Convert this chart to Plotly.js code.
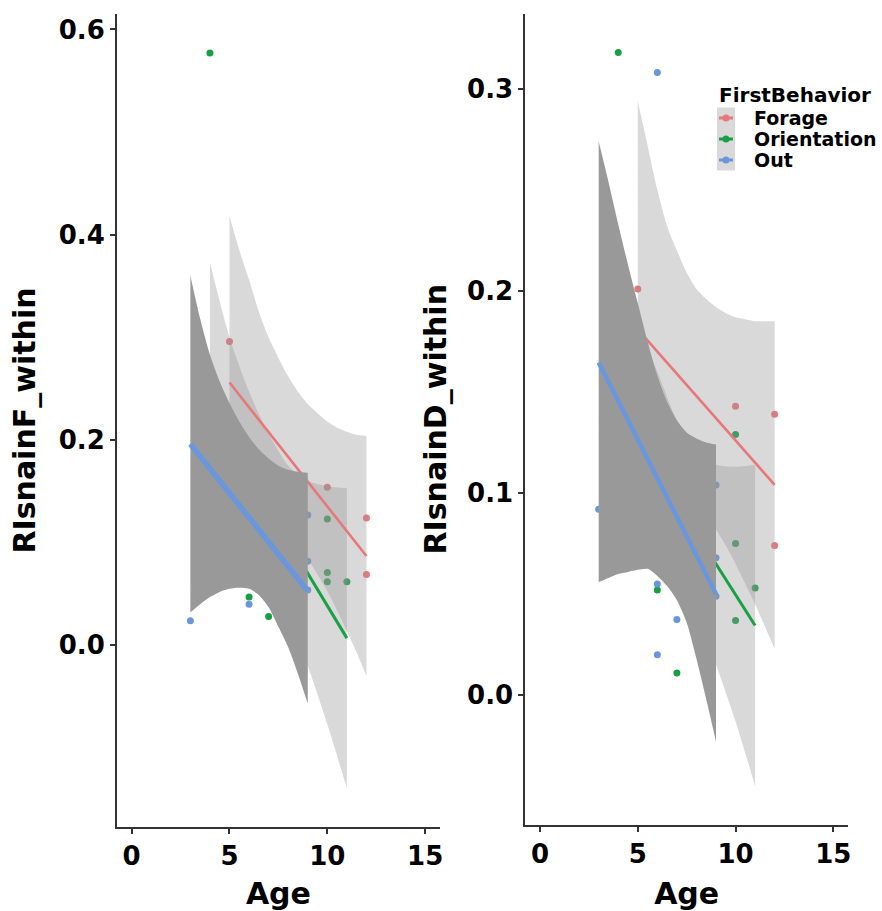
<!DOCTYPE html>
<html>
<head>
<meta charset="utf-8">
<script src="https://cdn.plot.ly/plotly-3.0.1.min.js"></script>
<style>html,body{margin:0;padding:0;background:#fff}#chart{width:882px;height:911px}</style>
</head>
<body>
<div id="chart"></div>
<script>
// ---------- categories / ticks ----------
const groups = ['Forage', 'Orientation', 'Out'];
const legendTitle = 'FirstBehavior';
const ageTicks = [0, 5, 10, 15];
const ticksF = [0, 0.2, 0.4, 0.6];
const ticksD = [0, 0.1, 0.2, 0.3];

// ---------- Left panel: RIsnainF_within ----------
const F_forage_age = [5, 10, 12, 12];
const F_forage_val = [0.296, 0.154, 0.124, 0.069];
const F_orient_age = [4, 6, 7, 10, 10, 10, 11];
const F_orient_val = [0.577, 0.047, 0.028, 0.123, 0.071, 0.062, 0.062];
const F_out_age = [3, 6, 9, 9, 9];
const F_out_val = [0.024, 0.040, 0.127, 0.082, 0.054];

// fitted lines (end points)
const F_forage_fitAge = [5, 12];
const F_forage_fitVal = [0.256, 0.087];
const F_orient_fitAge = [4, 11];
const F_orient_fitVal = [0.228, 0.007];
const F_out_fitAge = [3, 9];
const F_out_fitVal = [0.196, 0.053];

// confidence bands
const F_forage_bandAge = [5, 5.5, 6, 6.5, 7, 7.5, 8, 8.5, 9, 9.5, 10, 10.5, 11, 11.5, 12];
const F_forage_bandHi = [0.418, 0.385, 0.356, 0.325, 0.300, 0.280, 0.262, 0.247, 0.235, 0.226, 0.218, 0.212, 0.208, 0.205, 0.204];
const F_forage_bandLo = [0.094, 0.103, 0.108, 0.115, 0.115, 0.111, 0.105, 0.096, 0.084, 0.069, 0.053, 0.034, 0.014, -0.007, -0.030];
const F_orient_bandAge = [4, 5, 6, 7, 8, 9, 10, 11];
const F_orient_bandHi = [0.373, 0.300, 0.247, 0.206, 0.175, 0.160, 0.155, 0.153];
const F_orient_bandLo = [0.082, 0.080, 0.075, 0.060, 0.028, -0.020, -0.077, -0.139];
const F_out_bandAge = [3, 3.5, 4, 4.5, 5, 5.5, 6, 6.5, 7, 7.5, 8, 8.5, 9];
const F_out_bandHi = [0.360, 0.318, 0.283, 0.257, 0.236, 0.218, 0.203, 0.191, 0.182, 0.175, 0.171, 0.169, 0.168];
const F_out_bandLo = [0.032, 0.040, 0.047, 0.052, 0.055, 0.056, 0.055, 0.049, 0.037, 0.018, -0.002, -0.028, -0.057];

// ---------- Right panel: RIsnainD_within ----------
const D_forage_age = [5, 10, 12, 12];
const D_forage_val = [0.201, 0.143, 0.139, 0.074];
const D_orient_age = [4, 6, 7, 10, 10, 10, 11];
const D_orient_val = [0.318, 0.052, 0.011, 0.129, 0.075, 0.037, 0.053];
const D_out_age = [3, 6, 6, 6, 7, 9, 9, 9];
const D_out_val = [0.092, 0.308, 0.055, 0.020, 0.0375, 0.104, 0.068, 0.049];

const D_forage_fitAge = [5, 12];
const D_forage_fitVal = [0.181, 0.104];
const D_orient_fitAge = [4, 11];
const D_orient_fitVal = [0.141, 0.0345];
const D_out_fitAge = [3, 9];
const D_out_fitVal = [0.1646, 0.0501];

const D_forage_bandAge = [5, 5.5, 6, 6.5, 7, 7.5, 8, 8.5, 9, 9.5, 10, 10.5, 11, 11.5, 12];
const D_forage_bandHi = [0.294, 0.272, 0.250, 0.232, 0.220, 0.209, 0.201, 0.196, 0.192, 0.189, 0.187, 0.186, 0.185, 0.185, 0.185];
const D_forage_bandLo = [0.068, 0.079, 0.090, 0.097, 0.098, 0.098, 0.095, 0.089, 0.082, 0.074, 0.065, 0.055, 0.045, 0.034, 0.023];
const D_orient_bandAge = [4, 5, 6, 7, 8, 9, 10, 11];
const D_orient_bandHi = [0.213, 0.185, 0.160, 0.136, 0.121, 0.114, 0.113, 0.114];
const D_orient_bandLo = [0.068, 0.066, 0.061, 0.054, 0.039, 0.015, -0.013, -0.045];
const D_out_bandAge = [3, 3.5, 4, 4.5, 5, 5.5, 6, 6.5, 7, 7.5, 8, 8.5, 9];
const D_out_bandHi = [0.274, 0.254, 0.233, 0.213, 0.194, 0.175, 0.158, 0.145, 0.136, 0.130, 0.127, 0.125, 0.124];
const D_out_bandLo = [0.056, 0.058, 0.060, 0.061, 0.062, 0.0625, 0.059, 0.054, 0.047, 0.036, 0.018, -0.002, -0.023];

// ---------- styles ----------
const COL = { Forage: '#E8777A', Orientation: '#18A045', Out: '#6A96DE' };
const LIGHT = 'rgba(150,150,150,0.36)';
const DARK = 'rgb(153,153,153)';
const FONT = 'DejaVu Sans, Arial, sans-serif';

function pts(x, y, g, xa, ya) {
  return { x: x, y: y, mode: 'markers', type: 'scatter', xaxis: xa, yaxis: ya,
    marker: { color: COL[g], size: 7 }, showlegend: false, hoverinfo: 'x+y', name: g };
}
function band(x, lo, hi, fill, xa, ya) {
  const base = { x: x, mode: 'lines', type: 'scatter', xaxis: xa, yaxis: ya,
    showlegend: false, hoverinfo: 'skip', line: { width: 0, shape: 'spline', smoothing: 0.7, color: 'rgba(0,0,0,0)' } };
  return [Object.assign({}, base, { y: lo }),
          Object.assign({}, base, { y: hi, fill: 'tonexty', fillcolor: fill })];
}
function fit(x, y, g, w, xa, ya) {
  return { x: x, y: y, mode: 'lines', type: 'scatter', xaxis: xa, yaxis: ya,
    line: { color: COL[g], width: w }, showlegend: false, hoverinfo: 'skip', name: g };
}

function panel(xa, ya, P, outW) {
  let t = [];
  t.push(pts(P.fa, P.fv, 'Forage', xa, ya));
  t.push(pts(P.oa, P.ov, 'Orientation', xa, ya));
  t.push(pts(P.ua, P.uv, 'Out', xa, ya));
  t = t.concat(band(P.fbA, P.fbL, P.fbH, LIGHT, xa, ya));
  t = t.concat(band(P.obA, P.obL, P.obH, LIGHT, xa, ya));
  t.push(fit(P.ffA, P.ffV, 'Forage', 2.6, xa, ya));
  t.push(fit(P.ofA, P.ofV, 'Orientation', 3, xa, ya));
  t = t.concat(band(P.ubA, P.ubL, P.ubH, DARK, xa, ya));
  t.push(fit(P.ufA, P.ufV, 'Out', outW, xa, ya));
  return t;
}

const left = panel('x', 'y', {
  fa: F_forage_age, fv: F_forage_val, oa: F_orient_age, ov: F_orient_val, ua: F_out_age, uv: F_out_val,
  fbA: F_forage_bandAge, fbL: F_forage_bandLo, fbH: F_forage_bandHi,
  obA: F_orient_bandAge, obL: F_orient_bandLo, obH: F_orient_bandHi,
  ubA: F_out_bandAge, ubL: F_out_bandLo, ubH: F_out_bandHi,
  ffA: F_forage_fitAge, ffV: F_forage_fitVal, ofA: F_orient_fitAge, ofV: F_orient_fitVal,
  ufA: F_out_fitAge, ufV: F_out_fitVal
}, 5.5);
const right = panel('x2', 'y2', {
  fa: D_forage_age, fv: D_forage_val, oa: D_orient_age, ov: D_orient_val, ua: D_out_age, uv: D_out_val,
  fbA: D_forage_bandAge, fbL: D_forage_bandLo, fbH: D_forage_bandHi,
  obA: D_orient_bandAge, obL: D_orient_bandLo, obH: D_orient_bandHi,
  ubA: D_out_bandAge, ubL: D_out_bandLo, ubH: D_out_bandHi,
  ffA: D_forage_fitAge, ffV: D_forage_fitVal, ofA: D_orient_fitAge, ofV: D_orient_fitVal,
  ufA: D_out_fitAge, ufV: D_out_fitVal
}, 4.5);

// ---------- layout helpers (pixel -> paper) ----------
const W = 882, H = 911, ML = 117, MR = 34, MT = 14, MB = 84;
const PW = W - ML - MR, PH = H - MT - MB;
const px = v => (v - ML) / PW;
const py = v => (H - MB - v) / PH;

// legend, drawn as ggplot-style key column
const legX = 717, legKeyW = 18, legTextX = 752, legTitleY = 95, legRow0 = 118, legRowH = 21;
const annotations = [{
  xref: 'paper', yref: 'paper', x: px(legX), y: py(legTitleY), xanchor: 'left', yanchor: 'middle',
  text: legendTitle, showarrow: false, font: { family: FONT, size: 20, weight: 'bold', color: '#000' }
}];
const shapes = [{
  type: 'rect', xref: 'paper', yref: 'paper', layer: 'above',
  x0: px(legX), x1: px(legX + legKeyW), y0: py(legRow0 - legRowH / 2), y1: py(legRow0 + legRowH * 2.5),
  fillcolor: '#d9d9d9', line: { width: 0 }
}];
groups.forEach((g, i) => {
  const yc = legRow0 + i * legRowH;
  annotations.push({
    xref: 'paper', yref: 'paper', x: px(legTextX), y: py(yc), xanchor: 'left', yanchor: 'middle',
    text: g, showarrow: false, font: { family: FONT, size: 19, weight: 'bold', color: '#000' }
  });
  shapes.push({
    type: 'line', xref: 'paper', yref: 'paper', layer: 'above',
    x0: px(legX + 2), x1: px(legX + legKeyW - 2), y0: py(yc), y1: py(yc),
    line: { color: COL[g], width: 3 }
  });
  shapes.push({
    type: 'circle', xref: 'paper', yref: 'paper', layer: 'above',
    xsizemode: 'pixel', ysizemode: 'pixel', xanchor: px(legX + legKeyW / 2), yanchor: py(yc),
    x0: -3.5, x1: 3.5, y0: -3.5, y1: 3.5, fillcolor: COL[g], line: { width: 0 }
  });
});

const tickFont = { family: FONT, size: 26, weight: 'bold', color: '#000' };
const titleFont = { family: FONT, size: 30, weight: 'bold', color: '#000' };
function axisBase() {
  return { showline: true, linecolor: '#333', linewidth: 2, ticks: 'outside', ticklen: 5, tickwidth: 2,
    tickcolor: '#333', showgrid: false, zeroline: false, tickfont: tickFont, fixedrange: true };
}

const layout = {
  width: W, height: H,
  margin: { l: ML, r: MR, t: MT, b: MB },
  paper_bgcolor: '#fff', plot_bgcolor: '#fff',
  font: { family: FONT, color: '#000' },
  showlegend: false,
  annotations: annotations,
  shapes: shapes,
  xaxis: Object.assign(axisBase(), { domain: [0, 0.4416], range: [-0.75, 15.75], tickvals: ageTicks,
    anchor: 'y', title: { text: 'Age', font: titleFont } }),
  yaxis: Object.assign(axisBase(), { domain: [0, 1], range: [-0.177, 0.615], tickvals: ticksF, tickformat: '.1f',
    anchor: 'x', title: { text: 'RIsnainF_within', font: titleFont, standoff: 14 } }),
  xaxis2: Object.assign(axisBase(), { domain: [0.5586, 1], range: [-0.75, 15.75], tickvals: ageTicks,
    anchor: 'y2', title: { text: 'Age', font: titleFont } }),
  yaxis2: Object.assign(axisBase(), { domain: [0.003, 1], range: [-0.064, 0.337], tickvals: ticksD, tickformat: '.1f',
    anchor: 'x2', title: { text: 'RIsnainD_within', font: titleFont, standoff: 12 } })
};

Plotly.newPlot('chart', left.concat(right), layout, { displayModeBar: false, staticPlot: true });
</script>
</body>
</html>
